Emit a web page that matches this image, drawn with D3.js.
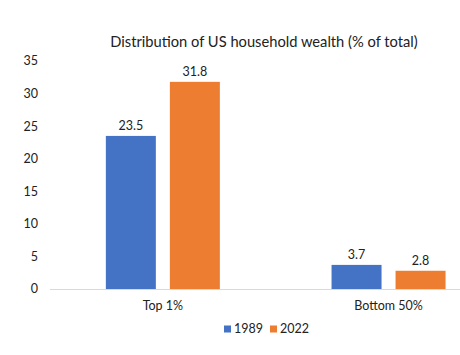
<!DOCTYPE html>
<html><head><meta charset="utf-8">
<script src="https://cdn.jsdelivr.net/npm/d3@7"></script>
<style>body{margin:0;background:#fff}svg{display:block}text{font-family:Lato,"Open Sans",sans-serif;fill:#222}</style>
</head><body><div id="chart"></div>
<script>
const categories = ["Top 1%", "Bottom 50%"];
const seriesNames = ["1989", "2022"];
const values1989 = [23.5, 3.7];
const values2022 = [31.8, 2.8];
const yTicks = [0, 5, 10, 15, 20, 25, 30, 35];
const colors = ["#4472C4", "#ED7D31"];

const W = 460, H = 355;
const svg = d3.select("#chart").append("svg").attr("width", W).attr("height", H);

const y = d3.scaleLinear().domain([0, 35]).range([289, 61]);
const x0 = d3.scaleBand().domain(categories).range([50, 501.4]).paddingInner(0).paddingOuter(0);
const groupW = 114;
const off = (x0.bandwidth() - groupW) / 2;
const x1 = d3.scaleBand().domain(seriesNames).range([off, off + groupW]).paddingInner(0.219).paddingOuter(0);

svg.append("text").attr("x", 264).attr("y", 47).attr("text-anchor", "middle")
  .style("font-size", "14.7px").text("Distribution of US household wealth (% of total)");

svg.append("g").selectAll("text").data(yTicks).join("text")
  .attr("x", 38).attr("y", d => y(d)).attr("dy", "0.35em").attr("text-anchor", "end")
  .style("font-size", "12.5px").text(d => d);

svg.append("line").attr("x1", 50).attr("x2", 501).attr("y1", y(0) + 0.5).attr("y2", y(0) + 0.5)
  .attr("stroke", "#d9d9d9").attr("stroke-width", 1);

const data = categories.map((c, i) => ({cat: c, vals: [values1989[i], values2022[i]]}));
const g = svg.append("g").selectAll("g").data(data).join("g")
  .attr("transform", d => `translate(${x0(d.cat)},0)`);
g.selectAll("rect").data(d => d.vals.map((v, j) => ({s: seriesNames[j], v, j}))).join("rect")
  .attr("x", d => x1(d.s)).attr("width", x1.bandwidth())
  .attr("y", d => y(d.v)).attr("height", d => y(0) - y(d.v))
  .attr("fill", d => colors[d.j]);
g.selectAll("text.lbl").data(d => d.vals.map((v, j) => ({s: seriesNames[j], v, j}))).join("text")
  .attr("class", "lbl")
  .attr("x", d => x1(d.s) + x1.bandwidth() / 2).attr("y", d => y(d.v) - 6)
  .attr("text-anchor", "middle").style("font-size", "12.5px").text(d => d.v.toFixed(1));

svg.append("g").selectAll("text").data(categories).join("text")
  .attr("x", d => x0(d) + x0.bandwidth() / 2).attr("y", 310).attr("text-anchor", "middle")
  .style("font-size", "12.5px").text(d => d);

const legX = [224, 270];
const lg = svg.append("g").selectAll("g").data(seriesNames).join("g")
  .attr("transform", (d, i) => `translate(${legX[i]},329)`);
lg.append("rect").attr("x", 0).attr("y", -3.5).attr("width", 7).attr("height", 7).attr("fill", (d, i) => colors[i]);
lg.append("text").attr("x", 10).attr("y", 0).attr("dy", "0.35em").style("font-size", "12.5px").text(d => d);
</script></body></html>
